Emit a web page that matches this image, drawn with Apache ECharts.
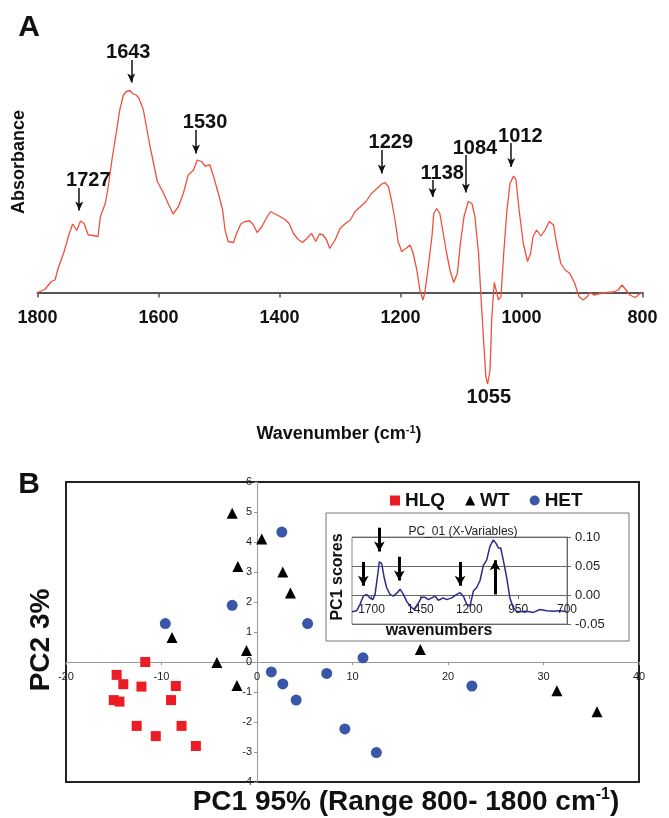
<!DOCTYPE html>
<html>
<head>
<meta charset="utf-8">
<title>FTIR spectrum and PCA scores</title>
<script src="https://cdn.jsdelivr.net/npm/echarts@6/dist/echarts.min.js"></script>
<style>
    html, body { margin: 0; padding: 0; background: #fff; }
    #chart { width: 669px; height: 818px; }
</style>
</head>
<body>
<div id="chart"></div>
<script>
// ---- panel A : FTIR spectrum ----
var wavenumbers = [1800, 1788, 1777, 1771, 1766, 1757, 1749, 1742, 1735, 1729, 1723, 1716, 1708, 1700, 1696, 1688, 1683, 1677, 1670, 1664,
    1658, 1653, 1647, 1643, 1637, 1632, 1625, 1620, 1614, 1607, 1602, 1593, 1584, 1576, 1567, 1559, 1551, 1542, 1536, 1529,
    1523, 1515, 1509, 1501, 1494, 1490, 1485, 1476, 1471, 1464, 1457, 1449, 1443, 1437, 1429, 1422, 1415, 1407, 1399, 1391,
    1384, 1377, 1369, 1362, 1355, 1347, 1340, 1334, 1328, 1322, 1317, 1308, 1300, 1292, 1283, 1275, 1266, 1257, 1248, 1239,
    1231, 1226, 1220, 1215, 1209, 1204, 1198, 1191, 1184, 1179, 1173, 1168, 1163, 1160, 1154, 1148, 1145, 1140, 1135, 1129,
    1124, 1118, 1112, 1106, 1101, 1095, 1088, 1082, 1077, 1071, 1067, 1063, 1059, 1056, 1052, 1049, 1045, 1042, 1038, 1034,
    1029, 1024, 1019, 1013, 1009, 1004, 997, 990, 985, 981, 975, 968, 961, 954, 947, 942, 935, 928, 920, 912,
    905, 898, 891, 887, 880, 870, 859, 848, 840, 834, 829, 821, 812, 807, 801];
var absorbance = [0.00, 0.03, 0.11, 0.125, 0.24, 0.39, 0.56, 0.685, 0.62, 0.715, 0.69, 0.575, 0.57, 0.56, 0.76, 0.89, 1.06, 1.325, 1.59, 1.825,
    1.975, 2.01, 2.02, 1.99, 1.975, 1.94, 1.825, 1.66, 1.46, 1.26, 1.11, 1.01, 0.89, 0.785, 0.86, 0.99, 1.175, 1.225, 1.325, 1.31,
    1.265, 1.275, 1.16, 0.99, 0.825, 0.625, 0.51, 0.50, 0.59, 0.685, 0.71, 0.715, 0.675, 0.60, 0.66, 0.74, 0.81, 0.785, 0.76, 0.73,
    0.69, 0.59, 0.53, 0.50, 0.54, 0.59, 0.51, 0.585, 0.575, 0.525, 0.44, 0.525, 0.64, 0.685, 0.725, 0.81, 0.86, 0.91, 0.99, 1.04,
    1.085, 1.10, 1.06, 0.925, 0.725, 0.51, 0.41, 0.44, 0.475, 0.39, 0.225, 0.025, -0.075, -0.01, 0.26, 0.56, 0.79, 0.84, 0.79, 0.58,
    0.40, 0.22, 0.10, 0.19, 0.49, 0.76, 0.91, 0.89, 0.76, 0.39, -0.04, -0.44, -0.84, -0.915, -0.775, -0.24, 0.10, 0.10, -0.075, -0.04,
    0.425, 0.825, 1.09, 1.165, 1.125, 0.825, 0.49, 0.31, 0.39, 0.56, 0.625, 0.565, 0.625, 0.71, 0.675, 0.49, 0.29, 0.225, 0.19, 0.09,
    -0.04, -0.075, -0.04, 0.0, -0.025, -0.01, 0.0, 0.005, 0.025, 0.075, 0.04, -0.025, -0.05, -0.025, 0.0];

// peak arrows (wavenumber, start, end of arrow) and their labels
var arrowWave = [1731, 1645, 1538, 1231, 1147, 1092, 1017];
var arrowFrom = [1.045, 2.325, 1.625, 1.425, 1.125, 1.375, 1.495];
var arrowTo = [0.82, 2.10, 1.39, 1.19, 0.955, 1.00, 1.255];
var peakNames = ['1727', '1643', '1530', '1229', '1138', '1084', '1012', '1055'];
var peakLabelWave = [1716, 1650, 1523, 1216, 1131, 1077, 1002, 1054];
var peakLabelAbs = [1.12, 2.40, 1.705, 1.50, 1.19, 1.44, 1.565, -1.05];

// ---- panel B : PCA scores ----
var hlqX = [-11.7, -14.7, -14.0, -12.1, -8.5, -15.0, -14.4, -9.0, -12.6, -7.9, -10.6, -6.4];
var hlqY = [0.0, -0.43, -0.74, -0.82, -0.8, -1.27, -1.32, -1.27, -2.13, -2.13, -2.47, -2.8];
var wtX = [-2.6, 0.5, -2.0, 2.7, 3.5, -8.9, -1.1, -4.2, -2.1, 17.1, 31.4, 35.6];
var wtY = [4.96, 4.1, 3.18, 3.0, 2.3, 0.82, 0.38, -0.02, -0.78, 0.42, -0.96, -1.66];
var hetX = [2.6, -2.6, -9.6, 5.3, 1.5, 2.7, 4.1, 7.3, 11.1, 22.5, 9.2, 12.5];
var hetY = [4.33, 1.89, 1.28, 1.28, -0.33, -0.73, -1.27, -0.38, 0.14, -0.8, -2.23, -3.02];

// ---- inset : PC1 loadings ----
var loadWave = [1800, 1776, 1759, 1742, 1725, 1708, 1694, 1682, 1670, 1660, 1648, 1636, 1623, 1606, 1589, 1568, 1554, 1537, 1520, 1503,
    1483, 1461, 1444, 1427, 1409, 1392, 1375, 1358, 1333, 1316, 1290, 1264, 1247, 1230, 1213, 1196, 1179, 1162, 1145, 1128,
    1111, 1094, 1077, 1063, 1051, 1039, 1026, 1009, 992, 975, 958, 941, 906, 872, 838, 804, 770, 736, 702];
var loadValue = [-0.029, -0.027, -0.016, -0.002, 0.001, -0.005, -0.008, 0.001, 0.031, 0.057, 0.054, 0.031, 0.013, 0.001, -0.002, 0.004, 0.010, 0.001, -0.011, -0.019,
    -0.025, -0.014, -0.004, -0.004, -0.008, -0.005, -0.002, -0.009, -0.005, -0.008, -0.005, 0.001, 0.004, -0.002, -0.016, -0.019, 0.007, 0.013, 0.025, 0.051,
    0.060, 0.084, 0.095, 0.089, 0.081, 0.081, 0.060, 0.031, -0.005, -0.022, -0.028, -0.029, -0.028, -0.030, -0.025, -0.027, -0.028, -0.027, -0.029];
var insetTicks = [700, 950, 1200, 1450, 1700];
var insetArrowWave = [1742, 1660, 1558, 1247, 1068];
var insetArrowFrom = [0.057, 0.116, 0.066, 0.057, 0.001];
var insetArrowTo = [0.016, 0.075, 0.025, 0.016, 0.060];

var FONT = '"Liberation Sans", Arial, sans-serif';

function zip(xs, ys) {
    return xs.map(function (x, i) { return [x, ys[i]]; });
}
// axis that only carries a grid, nothing drawn
function hiddenAxis(gridIndex, min, max, inverse) {
    return { gridIndex: gridIndex, type: 'value', min: min, max: max, inverse: !!inverse, show: false };
}
function plainNumber(v) {
    return String(v);
}

var myChart = echarts.init(document.getElementById('chart'));

var option = {
    animation: false,
    backgroundColor: '#fff',
    textStyle: { fontFamily: FONT },
    grid: [
        // 0: panel A data
        { left: 37.5, right: 26.5, top: 42.5, bottom: 405.5 },
        // 1: panel A axis (bottom edge = zero absorbance)
        { left: 37.5, right: 26.5, top: 42.5, bottom: 525.5 },
        // 2: panel B data, framed
        { left: 66, right: 30, top: 482, bottom: 36, show: true, borderColor: '#222', borderWidth: 2 },
        // 3: panel B x axis through PC2 = 0
        { left: 66, right: 30, top: 482, bottom: 156 },
        // 4: panel B y axis through PC1 = 0
        { left: 257, right: 30, top: 482, bottom: 36 },
        // 5: inset plot frame with right y axis
        { left: 352, right: 102, top: 537, bottom: 194, show: true, borderColor: '#888', borderWidth: 1, backgroundColor: '#fff', z: 3 },
        // 6: inset x axis through 0.00
        { left: 352, right: 102, top: 537, bottom: 223 },
        // 7: inset data (room above for arrows)
        { left: 352, right: 102, top: 508, bottom: 194 }
    ],
    legend: {
        left: 390,
        top: 491,
        padding: 0,
        itemWidth: 10,
        itemHeight: 10,
        itemGap: 20,
        selectedMode: false,
        textStyle: { fontSize: 19, fontWeight: 'bold', color: '#111', fontFamily: FONT },
        data: ['HLQ', 'WT', 'HET']
    },
    xAxis: [
        hiddenAxis(0, 800, 1800, true),
        {
            gridIndex: 1,
            type: 'value',
            min: 800,
            max: 1800,
            interval: 200,
            inverse: true,
            axisLine: { onZero: false, lineStyle: { color: '#555', width: 2 } },
            axisTick: { show: true, length: 5, lineStyle: { color: '#555', width: 1.5 } },
            axisLabel: { fontSize: 18, fontWeight: 'bold', color: '#111', margin: 17, formatter: plainNumber },
            splitLine: { show: false }
        },
        hiddenAxis(2, -20, 40),
        {
            gridIndex: 3,
            type: 'value',
            min: -20,
            max: 40,
            interval: 10,
            axisLine: { onZero: false, lineStyle: { color: '#999', width: 1 } },
            axisTick: { show: true, length: 3, lineStyle: { color: '#999' } },
            axisLabel: { fontSize: 11, color: '#222', margin: 9, formatter: plainNumber },
            splitLine: { show: false }
        },
        hiddenAxis(4, 0, 1),
        hiddenAxis(5, 700, 1800, true),
        {
            gridIndex: 6,
            type: 'value',
            min: 700,
            max: 1800,
            inverse: true,
            z: 4,
            axisLine: { onZero: false, lineStyle: { color: '#666', width: 1 } },
            axisTick: { show: true, length: 4, customValues: insetTicks, lineStyle: { color: '#666' } },
            axisLabel: { fontSize: 12, color: '#222', margin: 9, customValues: insetTicks, formatter: plainNumber },
            splitLine: { show: false }
        },
        hiddenAxis(7, 700, 1800, true)
    ],
    yAxis: [
        hiddenAxis(0, -1.2, 2.5),
        hiddenAxis(1, 0, 1),
        hiddenAxis(2, -4, 6),
        hiddenAxis(3, 0, 1),
        {
            gridIndex: 4,
            type: 'value',
            min: -4,
            max: 6,
            interval: 1,
            axisLine: { onZero: false, lineStyle: { color: '#999', width: 1 } },
            axisTick: { show: true, length: 3, lineStyle: { color: '#999' } },
            axisLabel: { fontSize: 11, color: '#222', margin: 5, formatter: plainNumber },
            splitLine: { show: false }
        },
        {
            gridIndex: 5,
            type: 'value',
            position: 'right',
            min: -0.05,
            max: 0.1,
            interval: 0.05,
            z: 4,
            axisLine: { show: true, onZero: false, lineStyle: { color: '#666', width: 1 } },
            axisTick: { show: true, length: 4, lineStyle: { color: '#666' } },
            axisLabel: {
                fontSize: 13,
                color: '#222',
                margin: 8,
                formatter: function (v) {
                    return (Math.abs(v) < 1e-9 ? 0 : v).toFixed(2);
                }
            },
            splitLine: { show: true, lineStyle: { color: '#666', width: 1 } }
        },
        hiddenAxis(6, 0, 1),
        hiddenAxis(7, -0.05, 0.15)
    ],
    series: [{
        name: 'spectrum',
        type: 'line',
        xAxisIndex: 0,
        yAxisIndex: 0,
        data: zip(wavenumbers, absorbance),
        showSymbol: false,
        z: 3,
        lineStyle: { color: '#f0503c', width: 1.3 },
        markLine: {
            silent: true,
            symbol: ['none', 'arrow'],
            lineStyle: { color: '#111', width: 1.5, type: 'solid' },
            label: { show: false },
            data: arrowWave.map(function (w, i) {
                return [{ coord: [w, arrowFrom[i]] }, { coord: [w, arrowTo[i]], symbolSize: [6, 9] }];
            })
        },
        markPoint: {
            silent: true,
            symbol: 'circle',
            symbolSize: 1,
            itemStyle: { color: 'transparent' },
            label: { show: true, position: 'inside', formatter: '{b}', color: '#111', fontSize: 20, fontWeight: 'bold', fontFamily: FONT },
            data: peakNames.map(function (n, i) {
                return { name: n, coord: [peakLabelWave[i], peakLabelAbs[i]] };
            })
        }
    }, {
        name: 'HLQ',
        type: 'scatter',
        xAxisIndex: 2,
        yAxisIndex: 2,
        symbol: 'rect',
        symbolSize: 10,
        itemStyle: { color: '#ec1c24', opacity: 1 },
        data: zip(hlqX, hlqY)
    }, {
        name: 'WT',
        type: 'scatter',
        xAxisIndex: 2,
        yAxisIndex: 2,
        symbol: 'triangle',
        symbolSize: 11,
        itemStyle: { color: '#000', opacity: 1 },
        data: zip(wtX, wtY)
    }, {
        name: 'HET',
        type: 'scatter',
        xAxisIndex: 2,
        yAxisIndex: 2,
        symbol: 'circle',
        symbolSize: 11,
        itemStyle: { color: '#3a56a8', opacity: 1 },
        data: zip(hetX, hetY)
    }, {
        name: 'PC_01',
        type: 'line',
        xAxisIndex: 7,
        yAxisIndex: 7,
        z: 6,
        clip: false,
        data: zip(loadWave, loadValue),
        showSymbol: false,
        lineStyle: { color: '#2b2b8c', width: 1.5 },
        markLine: {
            silent: true,
            symbol: ['none', 'arrow'],
            lineStyle: { color: '#000', width: 3, type: 'solid' },
            label: { show: false },
            data: insetArrowWave.map(function (w, i) {
                return [{ coord: [w, insetArrowFrom[i]] }, { coord: [w, insetArrowTo[i]], symbolSize: [8, 10] }];
            })
        }
    }],
    graphic: [
        // inset frame
        { type: 'rect', z: -1, shape: { x: 326, y: 513, width: 303, height: 128 }, style: { fill: '#fff', stroke: '#777', lineWidth: 1 } },
        { type: 'text', x: 29, y: 28, style: { text: 'A', font: 'bold 30px ' + FONT, fill: '#111', textAlign: 'center', textVerticalAlign: 'middle' } },
        { type: 'text', x: 29, y: 485, style: { text: 'B', font: 'bold 30px ' + FONT, fill: '#111', textAlign: 'center', textVerticalAlign: 'middle' } },
        { type: 'text', x: 19, y: 162, rotation: Math.PI / 2, style: { text: 'Absorbance', font: 'bold 18px ' + FONT, fill: '#111', textAlign: 'center', textVerticalAlign: 'middle' } },
        {
            type: 'text', x: 339, y: 434,
            style: {
                text: '{m|Wavenumber (cm}{s|-1}{m|)}',
                fill: '#111', textAlign: 'center', textVerticalAlign: 'middle',
                rich: {
                    m: { font: 'bold 18px ' + FONT, lineHeight: 20 },
                    s: { font: 'bold 11px ' + FONT, lineHeight: 11, verticalAlign: 'top' }
                }
            }
        },
        { type: 'text', x: 41, y: 640, rotation: Math.PI / 2, style: { text: 'PC2 3%', font: 'bold 28px ' + FONT, fill: '#111', textAlign: 'center', textVerticalAlign: 'middle' } },
        {
            type: 'text', x: 406, y: 802,
            style: {
                text: '{m|PC1 95% (Range 800- 1800 cm}{s|-1}{m|)}',
                fill: '#111', textAlign: 'center', textVerticalAlign: 'middle',
                rich: {
                    m: { font: 'bold 28px ' + FONT, lineHeight: 30 },
                    s: { font: 'bold 16px ' + FONT, lineHeight: 16, verticalAlign: 'top' }
                }
            }
        },
        { type: 'text', x: 463, y: 532, z: 10, style: { text: 'PC_01 (X-Variables)', font: '12px ' + FONT, fill: '#222', textAlign: 'center', textVerticalAlign: 'middle' } },
        { type: 'text', x: 338, y: 577, rotation: Math.PI / 2, z: 10, style: { text: 'PC1 scores', font: 'bold 16px ' + FONT, fill: '#111', textAlign: 'center', textVerticalAlign: 'middle' } },
        { type: 'text', x: 439, y: 631, z: 10, style: { text: 'wavenumbers', font: 'bold 16px ' + FONT, fill: '#111', textAlign: 'center', textVerticalAlign: 'middle' } }
    ]
};

myChart.setOption(option);
window.addEventListener('resize', function () {
    myChart.resize();
});
</script>
</body>
</html>
